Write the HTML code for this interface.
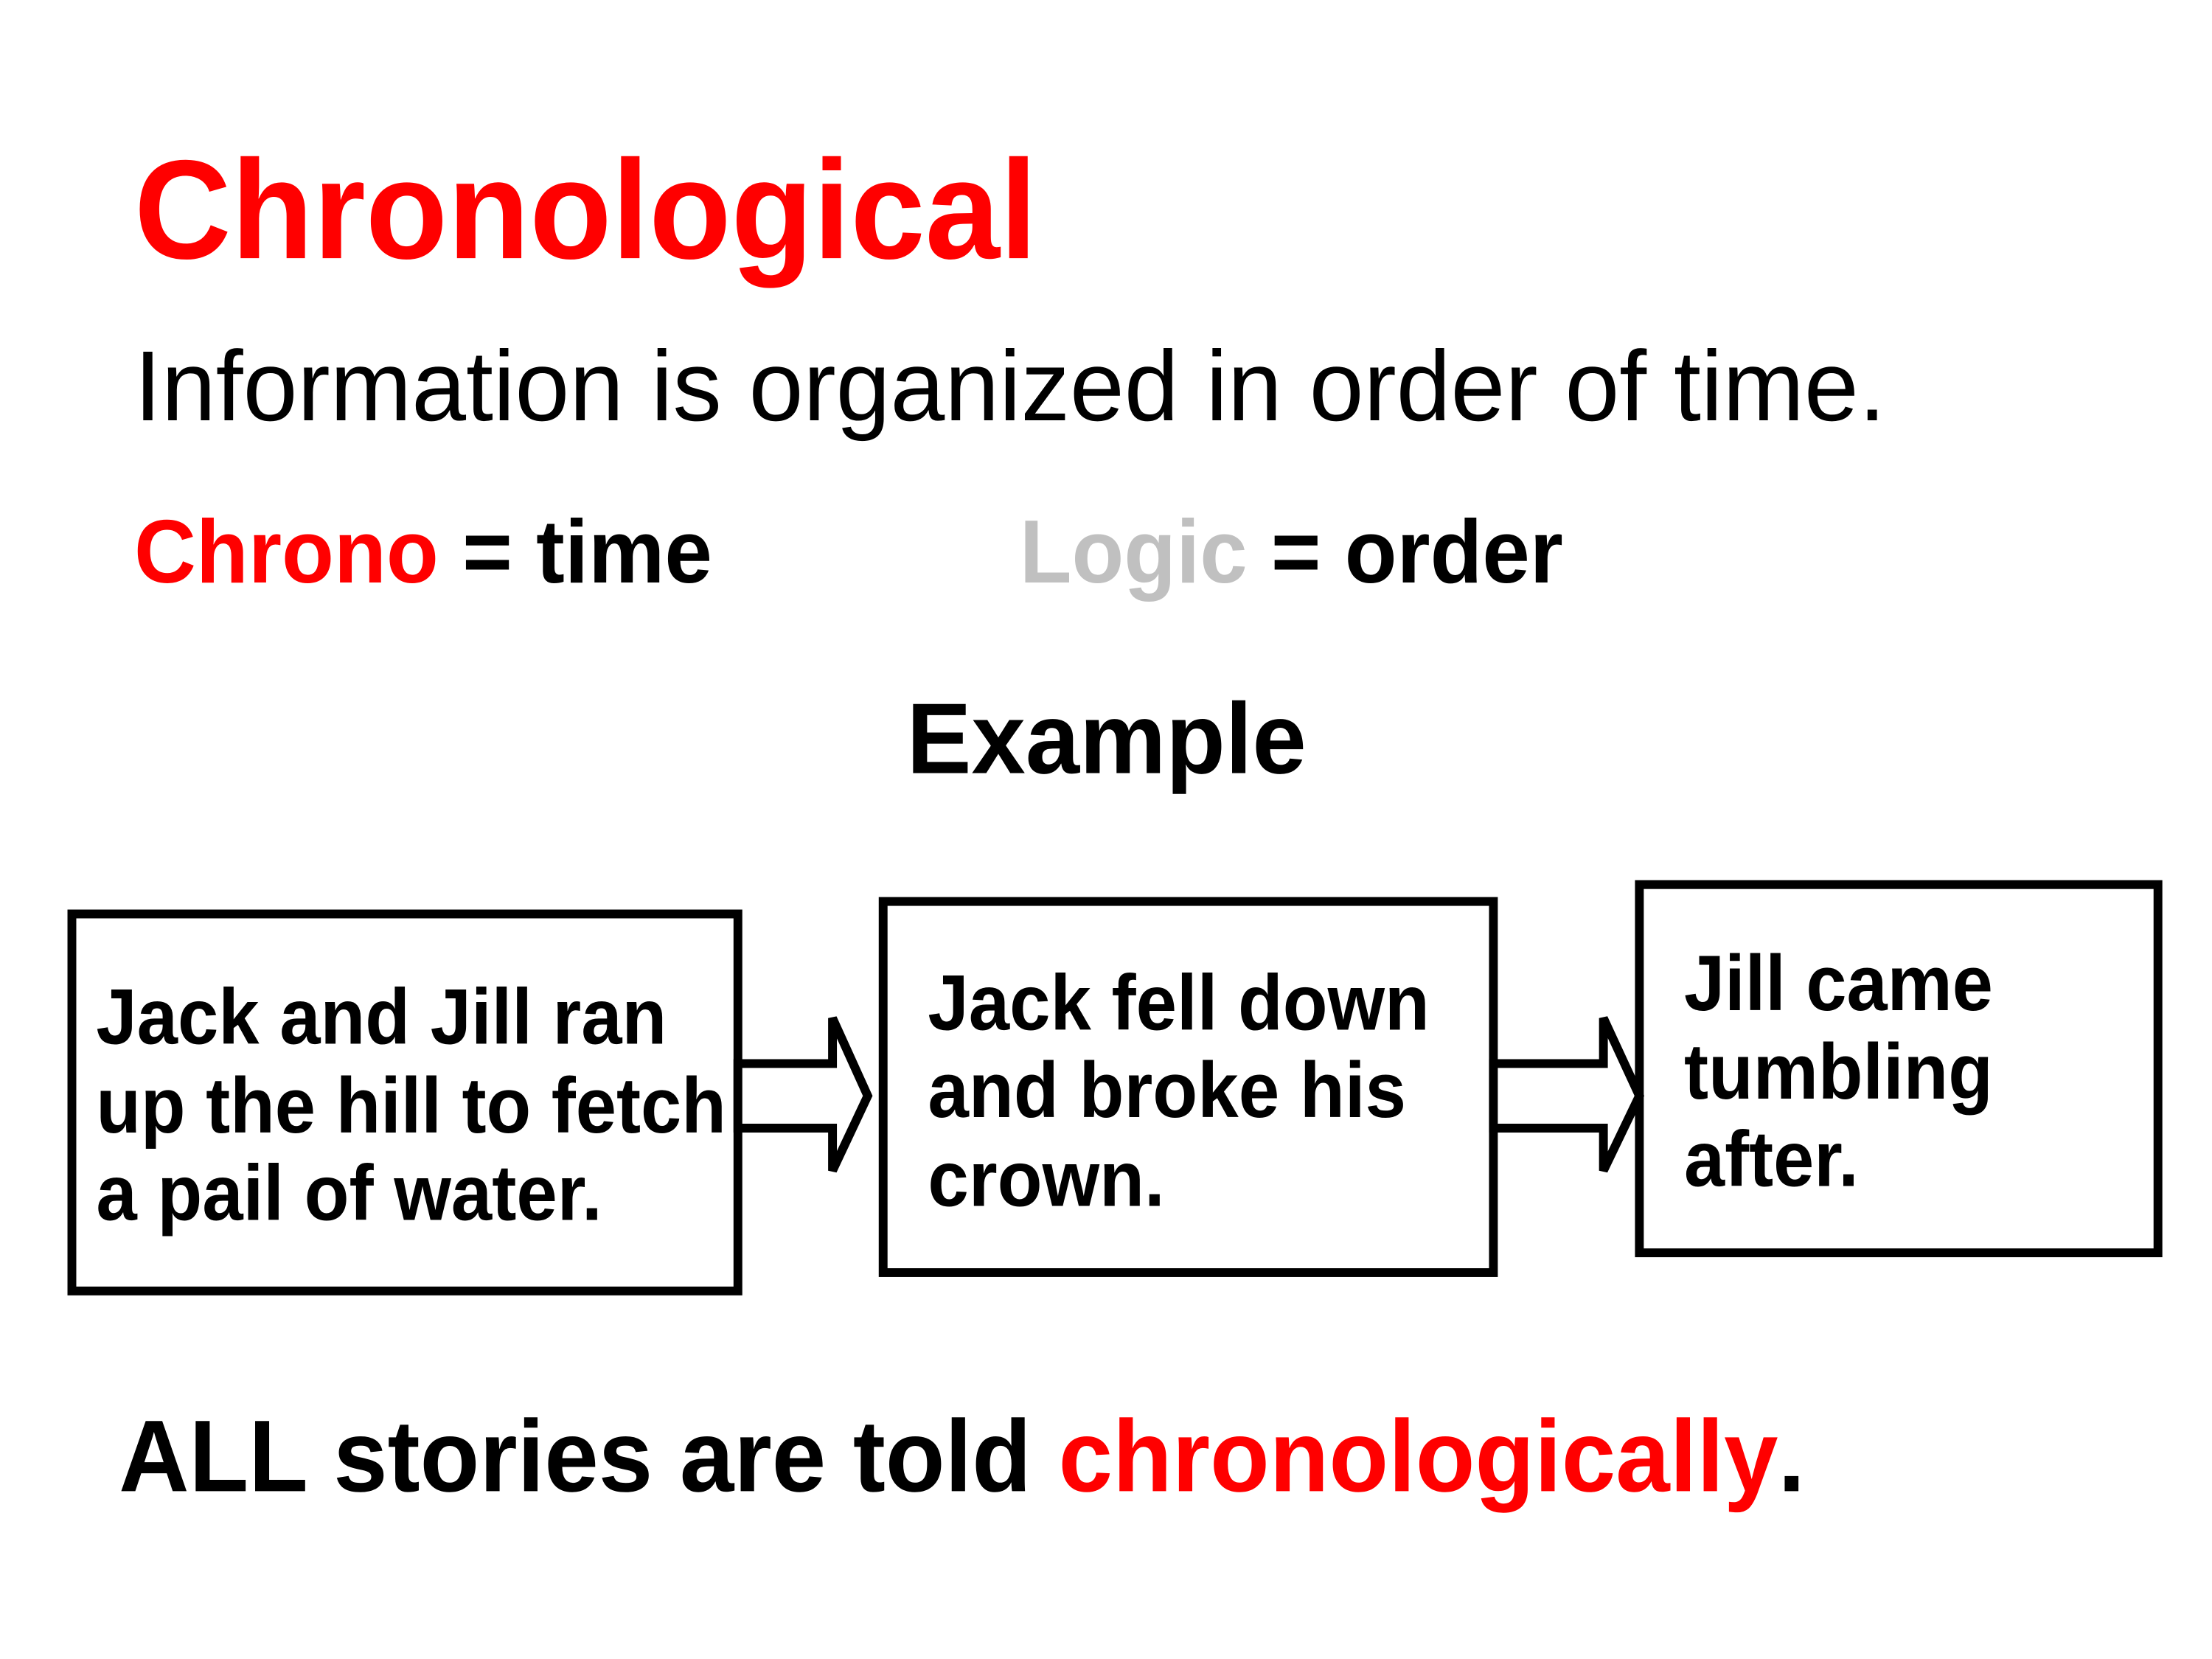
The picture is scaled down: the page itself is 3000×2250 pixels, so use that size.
<!DOCTYPE html>
<html><head><meta charset="utf-8"><style>html,body{margin:0;padding:0;background:#fff}svg{display:block}</style></head>
<body>
<svg width="3000" height="2250" viewBox="0 0 3000 2250" xmlns="http://www.w3.org/2000/svg" font-family="Liberation Sans, Arial, sans-serif">
<rect width="3000" height="2250" fill="#fff"/>
<g transform="scale(0.9948)">
<text x="183" y="352" font-size="192" font-weight="bold" fill="#ff0000" textLength="1231" lengthAdjust="spacingAndGlyphs">Chronological</text>
<text x="183" y="573" font-size="136" fill="#000" textLength="2388" lengthAdjust="spacingAndGlyphs">Information is organized in order of time.</text>
<text x="183" y="794" font-size="122" font-weight="bold" textLength="788" lengthAdjust="spacingAndGlyphs"><tspan fill="#ff0000">Chrono</tspan><tspan fill="#000"> = time</tspan></text>
<text x="1390" y="794" font-size="122" font-weight="bold" textLength="741" lengthAdjust="spacingAndGlyphs"><tspan fill="#c0c0c0">Logic</tspan><tspan fill="#000"> = order</tspan></text>
<text x="1236" y="1054" font-size="137" font-weight="bold" fill="#000" textLength="545" lengthAdjust="spacingAndGlyphs">Example</text>
<g fill="none" stroke="#000" stroke-width="12">
<rect x="98" y="1246" width="908" height="514"/>
<rect x="1204" y="1229" width="832" height="506"/>
<rect x="2235" y="1206" width="707" height="502"/>
<polygon points="1006,1450 1135,1450 1135,1388 1183,1494 1135,1596 1135,1538 1006,1538" fill="#fff"/>
<polygon points="2036,1450 2186,1450 2186,1388 2235,1494 2186,1596 2186,1538 2036,1538" fill="#fff"/>
</g>
<g font-size="107" font-weight="bold" fill="#000">
<text x="131" y="1423" textLength="778" lengthAdjust="spacingAndGlyphs">Jack and Jill ran</text>
<text x="131" y="1544" textLength="859" lengthAdjust="spacingAndGlyphs">up the hill to fetch</text>
<text x="131" y="1663" textLength="690" lengthAdjust="spacingAndGlyphs">a pail of water.</text>
<text x="1265" y="1404" textLength="684" lengthAdjust="spacingAndGlyphs">Jack fell down</text>
<text x="1265" y="1523" textLength="652" lengthAdjust="spacingAndGlyphs">and broke his</text>
<text x="1265" y="1644" textLength="323" lengthAdjust="spacingAndGlyphs">crown.</text>
<text x="2296" y="1377" textLength="421" lengthAdjust="spacingAndGlyphs">Jill came</text>
<text x="2296" y="1498" textLength="421" lengthAdjust="spacingAndGlyphs">tumbling</text>
<text x="2296" y="1617" textLength="238" lengthAdjust="spacingAndGlyphs">after.</text>
</g>
<text x="162" y="2033" font-size="139" font-weight="bold" textLength="2299" lengthAdjust="spacingAndGlyphs"><tspan fill="#000">ALL stories are told </tspan><tspan fill="#ff0000">chronologically</tspan><tspan fill="#000">.</tspan></text>
</g>
</svg>
</body></html>
